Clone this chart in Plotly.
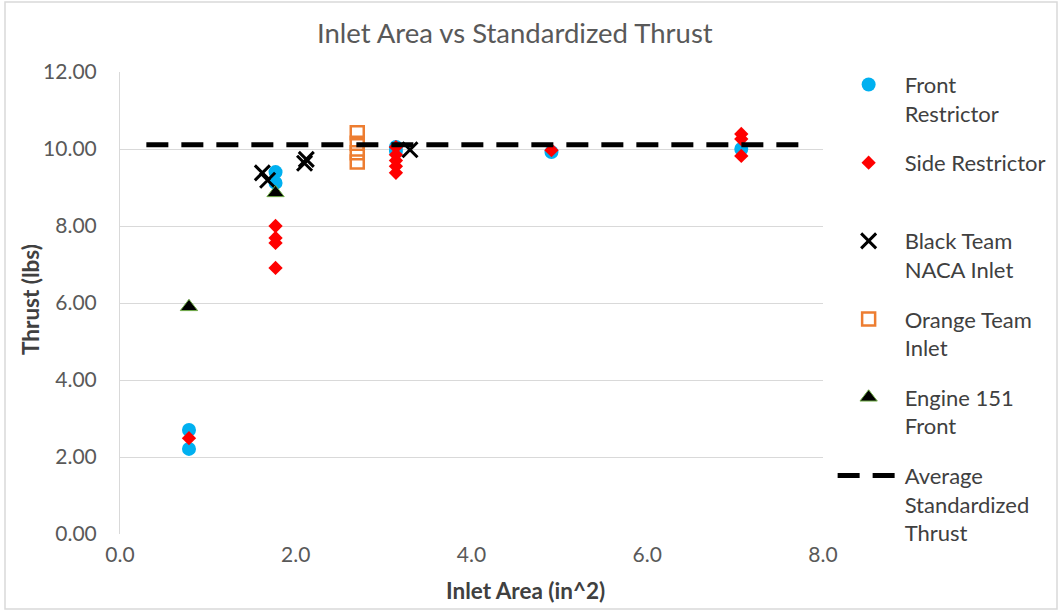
import plotly.graph_objects as go

# Inlet areas (in^2) and standardized thrust (lbs) per configuration
front_x = [0.785, 0.785, 1.77, 1.77, 3.14, 3.14, 4.91, 7.07]
front_y = [2.21, 2.70, 9.40, 9.12, 10.05, 9.95, 9.92, 10.00]

side_x = [0.785, 1.77, 1.77, 1.77, 1.77, 3.14, 3.14, 3.14, 3.14, 3.14, 4.91, 7.07, 7.07, 7.07]
side_y = [2.49, 8.00, 7.69, 7.56, 6.91, 10.05, 9.85, 9.70, 9.55, 9.38, 9.97, 10.39, 10.26, 9.82]

black_x = [1.62, 1.68, 2.10, 2.12, 3.30]
black_y = [9.38, 9.19, 9.63, 9.73, 9.98]

orange_x = [2.70, 2.70, 2.70, 2.70]
orange_y = [10.42, 10.15, 9.90, 9.66]

engine_x = [0.785, 1.77]
engine_y = [5.90, 8.86]

avg_x = [0.30, 7.75]
avg_y = [10.11, 10.11]

y_ticks = [0, 2, 4, 6, 8, 10, 12]
x_ticks = [0, 2, 4, 6, 8]

FONT = "Lato"
GRAY = "#595959"
DARK = "#404040"

fig = go.Figure()

fig.add_trace(go.Scatter(
    x=front_x, y=front_y, mode="markers", name="Front<br>Restrictor",
    legendgroup="a",
    marker=dict(symbol="circle", size=14, color="#00B0F0", line=dict(width=0)),
))
fig.add_trace(go.Scatter(
    x=side_x, y=side_y, mode="markers", name="Side Restrictor<br>&nbsp;",
    legendgroup="b",
    marker=dict(symbol="diamond", size=11, color="#FF0000", line=dict(width=0)),
))
fig.add_trace(go.Scatter(
    x=black_x, y=black_y, mode="markers", name="Black Team<br>NACA Inlet",
    legendgroup="c",
    marker=dict(symbol="x-thin-open", size=15, color="#000000",
                line=dict(width=3, color="#000000")),
))
fig.add_trace(go.Scatter(
    x=orange_x, y=orange_y, mode="markers", name="Orange Team<br>Inlet",
    legendgroup="d",
    marker=dict(symbol="square-open", size=13, color="#ED7D31",
                line=dict(width=2.5, color="#ED7D31")),
))
fig.add_trace(go.Scatter(
    x=engine_x, y=engine_y, mode="markers", name="Engine 151<br>Front",
    legendgroup="e",
    marker=dict(symbol="triangle-up", size=15, color="#000000",
                line=dict(width=1, color="#70AD47")),
))
fig.add_trace(go.Scatter(
    x=avg_x, y=avg_y, mode="lines", name="Average<br>Standardized<br>Thrust",
    legendgroup="f",
    line=dict(color="#000000", width=5, dash="22px,13px"),
))

fig.update_layout(
    width=1060, height=611,
    margin=dict(l=120, r=237, t=72, b=77, autoexpand=False),
    paper_bgcolor="white", plot_bgcolor="white",
    font=dict(family=FONT, size=21, color=GRAY),
    showlegend=True,
    legend=dict(
        x=1.0137, y=1.018, xanchor="left", yanchor="top",
        valign="top", traceorder="grouped", tracegroupgap=18,
        itemwidth=62, maxheight=580,
        font=dict(family=FONT, size=22, color=DARK),
        bgcolor="rgba(0,0,0,0)",
    ),
    xaxis=dict(
        range=[0, 8], tickvals=x_ticks, tickformat=".1f",
        showgrid=False, zeroline=False, showline=False,
        ticks="", ticklabelstandoff=6, tickfont=dict(size=21, color=GRAY),
    ),
    yaxis=dict(
        range=[0, 12], tickvals=y_ticks, tickformat=".2f",
        showgrid=True, gridcolor="#D9D9D9", gridwidth=1,
        zeroline=False, showline=True, linecolor="#D9D9D9", linewidth=1,
        ticks="", ticklabelstandoff=18, tickfont=dict(size=21, color=GRAY),
    ),
    annotations=[
        dict(text="Inlet Area vs Standardized Thrust", xref="paper", yref="paper",
             x=(515 - 120) / 703, y=1.0 + 39 / 462, xanchor="center", yanchor="middle",
             showarrow=False, font=dict(family=FONT, size=27.5, color=GRAY)),
        dict(text="<b>Inlet Area (in^2)</b>", xref="paper", yref="paper",
             x=(525 - 120) / 703, y=-(590 - 534) / 462, xanchor="center", yanchor="middle",
             showarrow=False, font=dict(family=FONT, size=22.5, color=DARK)),
        dict(text="<b>Thrust (lbs)</b>", xref="paper", yref="paper",
             x=-(120 - 30) / 703, y=(534 - 300) / 462, xanchor="center", yanchor="middle",
             textangle=-90, showarrow=False,
             font=dict(family=FONT, size=22.5, color=DARK)),
    ],
    shapes=[
        dict(type="rect", xref="paper", yref="paper",
             x0=-(120 - 5) / 703, x1=(1057 - 120) / 703,
             y0=-(609 - 534) / 462, y1=(534 - 2) / 462,
             line=dict(color="#D9D9D9", width=1.5), fillcolor="rgba(0,0,0,0)",
             layer="below"),
    ],
)

fig.write_html("out.html")
